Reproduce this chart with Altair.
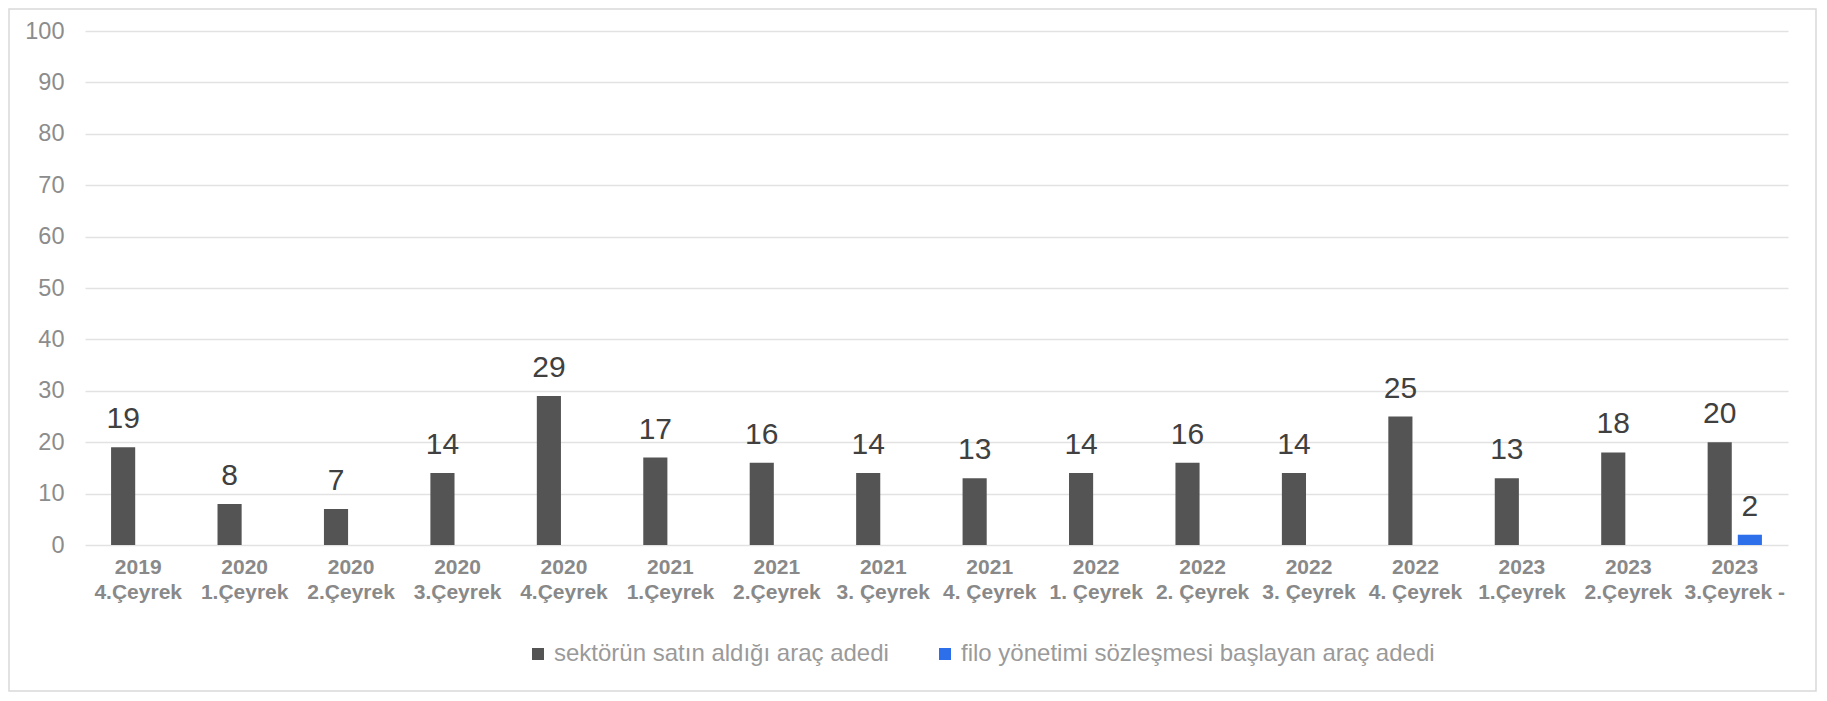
import altair as alt
import pandas as pd

categories = ["2019|4.Çeyrek", "2020|1.Çeyrek", "2020|2.Çeyrek", "2020|3.Çeyrek",
              "2020|4.Çeyrek", "2021|1.Çeyrek", "2021|2.Çeyrek", "2021|3. Çeyrek",
              "2021|4. Çeyrek", "2022|1. Çeyrek", "2022|2. Çeyrek", "2022|3. Çeyrek",
              "2022|4. Çeyrek", "2023|1.Çeyrek", "2023|2.Çeyrek", "2023|3.Çeyrek -"]
sektor_values = [19, 8, 7, 14, 29, 17, 16, 14, 13, 14, 16, 14, 25, 13, 18, 20]
filo_values = [None] * 15 + [2]
series_names = ["sektörün satın aldığı araç adedi",
                "filo yönetimi sözleşmesi başlayan araç adedi"]
series_colors = ["#545454", "#2D6EEB"]
y_ticks = [0, 10, 20, 30, 40, 50, 60, 70, 80, 90, 100]

rows = []
for c, v in zip(categories, sektor_values):
    rows.append({"cat": c, "series": series_names[0], "value": v})
for c, v in zip(categories, filo_values):
    if v is not None:
        rows.append({"cat": c, "series": series_names[1], "value": v})
df = pd.DataFrame(rows)

FONT = "Liberation Sans"

x_enc = alt.X("cat:N", sort=categories,
              scale=alt.Scale(paddingInner=0.49, paddingOuter=0.245),
              axis=alt.Axis(title=None, labelAngle=0, ticks=False, domain=False,
                            labelExpr="split(datum.value, '|')",
                            labelFont=FONT, labelFontSize=21, labelFontWeight="bold",
                            labelColor="#898989", labelLineHeight=25,
                            labelPadding=11, labelBaseline="top"))
xoff_enc = alt.XOffset("series:N", sort=series_names,
                       scale=alt.Scale(domain=series_names, paddingInner=0.2, paddingOuter=0))
y_enc = alt.Y("value:Q", scale=alt.Scale(domain=[0, 100]),
              axis=alt.Axis(title=None, values=y_ticks, ticks=False, domain=False,
                            labelFont=FONT, labelFontSize=23.5, labelColor="#8c8c8c",
                            labelPadding=21, gridColor="#e2e2e2", gridWidth=1.5))

base = alt.Chart(df)

bars = base.mark_bar().encode(
    x=x_enc,
    xOffset=xoff_enc,
    y=y_enc,
    color=alt.Color("series:N", sort=series_names,
                    scale=alt.Scale(domain=series_names, range=series_colors),
                    legend=alt.Legend(title=None, orient="none", direction="horizontal",
                                      legendX=441, legendY=611,
                                      symbolType="square", symbolSize=144,
                                      symbolStrokeWidth=0, labelFont=FONT,
                                      labelFontSize=24, labelColor="#9a9a9a",
                                      labelOffset=4, columnPadding=44,
                                      labelLimit=800)),
)

labels = base.mark_text(font=FONT, fontSize=30, color="#404040",
                        baseline="alphabetic", dy=-19).encode(
    x=alt.X("cat:N", sort=categories),
    xOffset=alt.XOffset("series:N", sort=series_names),
    y=alt.Y("value:Q"),
    text=alt.Text("value:Q"),
)

border = alt.Chart(pd.DataFrame({"a": [0]})).mark_rect(
    filled=False, stroke="#d9d9d9", strokeWidth=1.5).encode(
    x=alt.value(-76), x2=alt.value(1731), y=alt.value(-22), y2=alt.value(660))

chart = alt.layer(border, bars, labels).properties(
    width=1703, height=514, padding=0, background="white"
).configure_view(stroke=None)

chart.save("out.html", embed_options={"renderer": "svg", "actions": False})
